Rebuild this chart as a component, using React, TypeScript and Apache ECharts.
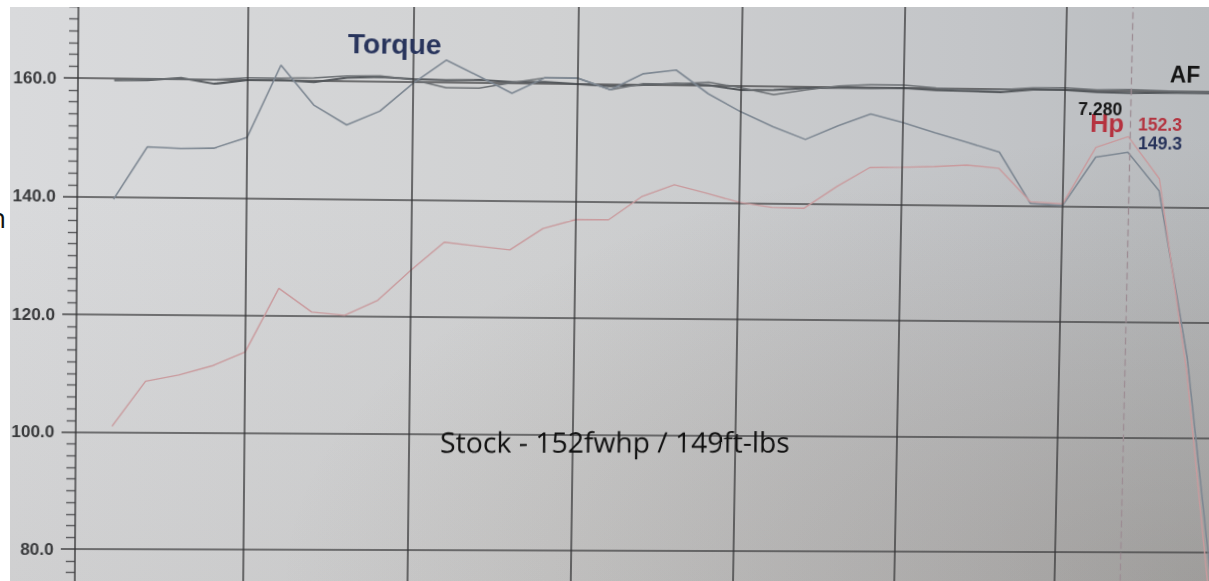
import React, { useEffect, useRef } from "react";
import * as echarts from "echarts";

// ---- data read from the dyno sheet ----
const rpm = [1200, 1400, 1600, 1800, 2000, 2200, 2400, 2600, 2800, 3000, 3200, 3400, 3600, 3800, 4000, 4200, 4400, 4600, 4800, 5000, 5200, 5400, 5600, 5800, 6000, 6200, 6400, 6600, 6800, 7000, 7200, 7400, 7600, 7800, 8000];
const torque = [139.6, 148.5, 148.3, 148.4, 150.3, 162.6, 155.9, 152.6, 155.0, 159.8, 163.8, 161.1, 158.3, 161.0, 161.0, 159.1, 161.9, 162.6, 158.6, 155.6, 153.1, 151.0, 153.4, 155.5, 154.1, 152.4, 150.8, 149.2, 140.4, 140.1, 148.5, 149.4, 142.8, 114.0, 71.6];
const hp = [101.0, 108.7, 109.8, 111.4, 113.8, 124.7, 120.7, 120.2, 122.8, 128.0, 132.8, 132.2, 131.6, 135.3, 136.9, 136.9, 140.9, 143.0, 141.6, 140.1, 139.3, 139.2, 143.0, 146.3, 146.4, 146.6, 146.9, 146.4, 140.7, 140.4, 150.2, 152.1, 144.9, 111.3, 66.0];
const af1 = [159.7, 159.8, 160.2, 159.3, 160.0, 160.1, 159.8, 160.6, 160.8, 160.5, 160.4, 160.5, 160.2, 160.3, 160.0, 159.7, 160.0, 160.3, 160.1, 159.3, 159.4, 159.8, 159.9, 159.9, 160.0, 159.7, 159.6, 159.5, 160.0, 160.0, 159.7, 159.6, 159.7, 159.8, 159.7];
const af2 = [159.7, 160.0, 160.0, 160.0, 160.4, 160.4, 160.5, 160.9, 161.0, 160.4, 159.1, 159.1, 160.1, 161.0, 161.0, 159.1, 160.2, 160.2, 160.6, 159.7, 158.6, 159.5, 160.2, 160.5, 160.5, 160.1, 159.8, 159.9, 160.3, 160.4, 160.1, 160.2, 160.1, 159.9, 160.0];
const vGridRpm = [2000, 3000, 4000, 5000, 6000, 7000];
const cursorRpm = 7410;
const yTickValues = [80, 100, 120, 140, 160];
const caption = "Stock - 152fwhp / 149ft-lbs";
const cursorLabel = "7.280";
const hpPeak = "152.3";
const tqPeak = "149.3";

// ---- photo perspective: flat sheet corners -> where they sit in the photo ----
const OFF = 40; // chart div's top-left sits at page (-40, -40)
const flatCorners = [[78, 78], [1065, 78], [78, 548], [1065, 548]];
const photoCorners = [[78, 78], [1065, 90], [75, 549], [1055, 552]];

function homography(src: number[][], dst: number[][]): number[] {
  const A: number[][] = [];
  const B: number[] = [];
  for (let i = 0; i < 4; i++) {
    const [x, y] = src[i];
    const [u, v] = dst[i];
    A.push([x, y, 1, 0, 0, 0, -x * u, -y * u]);
    B.push(u);
    A.push([0, 0, 0, x, y, 1, -x * v, -y * v]);
    B.push(v);
  }
  const n = 8;
  for (let c = 0; c < n; c++) {
    let p = c;
    for (let r = c + 1; r < n; r++) if (Math.abs(A[r][c]) > Math.abs(A[p][c])) p = r;
    [A[c], A[p]] = [A[p], A[c]];
    [B[c], B[p]] = [B[p], B[c]];
    for (let r = 0; r < n; r++) {
      if (r === c) continue;
      const f = A[r][c] / A[c][c];
      for (let k = c; k < n; k++) A[r][k] -= f * A[c][k];
      B[r] -= f * B[c];
    }
  }
  return B.map((b, i) => b / A[i][i]);
}
const shift = (pts: number[][]) => pts.map(([x, y]) => [x + OFF, y + OFF]);
const H = homography(shift(flatCorners), shift(photoCorners));
const Hinv = homography(shift(photoCorners), shift(flatCorners));
const applyH = (m: number[], x: number, y: number): [number, number] => {
  const w = m[6] * x + m[7] * y + 1;
  return [(m[0] * x + m[1] * y + m[2]) / w, (m[3] * x + m[4] * y + m[5]) / w];
};
// page position -> chart local coordinates
const pc = (px: number, py: number) => applyH(Hinv, px + OFF, py + OFF);
const cssMatrix = `matrix3d(${H[0]},${H[3]},0,${H[6]},${H[1]},${H[4]},0,${H[7]},0,0,1,0,${H[2]},${H[5]},0,1)`;

export default function App() {
  const ref = useRef<HTMLDivElement>(null);

  useEffect(() => {
    if (!ref.current) return;
    const chart = echarts.init(ref.current, undefined, { renderer: "svg" });
    const gridColor = "rgba(52,52,54,0.85)";
    const boldFont = "Liberation Sans, Arial, sans-serif";
    const mk = (text: string, px: number, py: number, size: number, color: string) => {
      const [x, y] = pc(px, py);
      return {
        type: "text",
        x,
        y,
        z: 50,
        style: {
          text,
          fontFamily: boldFont,
          fontWeight: "bold",
          fontSize: size,
          fill: color,
          verticalAlign: "middle",
          align: "left",
        },
      };
    };
    const capPos = pc(440, 442);
    chart.setOption({
      animation: false,
      backgroundColor: "transparent",
      grid: { left: 118, top: 0.5, width: 1183.75, height: 705, outerBoundsMode: "none", containLabel: false },
      xAxis: { type: "value", min: 982, max: 8200, show: false },
      yAxis: {
        type: "value",
        min: 60,
        max: 180,
        interval: 20,
        axisLine: { show: true, lineStyle: { color: gridColor, width: 1.6 } },
        axisTick: { show: true, length: 14, lineStyle: { color: gridColor, width: 1.6 } },
        minorTick: { show: true, splitNumber: 10, length: 9, lineStyle: { color: "rgba(60,60,62,0.8)", width: 1.4 } },
        splitLine: { show: true, lineStyle: { color: gridColor, width: 1.6 } },
        axisLabel: {
          margin: 21,
          fontSize: 17,
          fontWeight: "bold",
          fontFamily: boldFont,
          color: "#3a3b3d",
          formatter: (v: number) => (yTickValues.includes(v) ? v.toFixed(1) : ""),
        },
      },
      series: [
        {
          name: "AF",
          type: "line",
          showSymbol: false,
          data: rpm.map((r, i) => [r, af1[i]]),
          lineStyle: { color: "#53575b", width: 2 },
          markLine: {
            silent: true,
            symbol: ["none", "none"],
            label: { show: false },
            lineStyle: { type: "solid", color: gridColor, width: 1.6 },
            data: vGridRpm.map((v) => ({ xAxis: v })),
          },
        },
        {
          name: "AF2",
          type: "line",
          showSymbol: false,
          data: rpm.map((r, i) => [r, af2[i]]),
          lineStyle: { color: "#6c7074", width: 1.5 },
        },
        {
          name: "Torque",
          type: "line",
          showSymbol: false,
          data: rpm.map((r, i) => [r, torque[i]]),
          lineStyle: { color: "#7d8792", width: 1.6 },
        },
        {
          name: "Hp",
          type: "line",
          showSymbol: false,
          data: rpm.map((r, i) => [r, hp[i]]),
          lineStyle: { color: "#c99a9d", width: 1.4 },
          markLine: {
            silent: true,
            symbol: ["none", "none"],
            label: { show: false },
            lineStyle: { type: [7, 4], color: "#9c8c93", width: 1.3 },
            data: [{ xAxis: cursorRpm }],
          },
        },
      ],
      graphic: [
        mk("Torque", 348, 43, 28, "#28345c"),
        mk("AF", 1170, 75, 23, "#141414"),
        mk("Hp", 1090, 123, 26, "#b5323f"),
        mk(cursorLabel, 1078, 109, 18, "#161616"),
        mk(hpPeak, 1138, 124, 18, "#b33440"),
        mk(tqPeak, 1138, 143, 18, "#27335a"),
        {
          type: "text",
          x: capPos[0],
          y: capPos[1],
          rotation: 0.006,
          z: 60,
          style: {
            text: caption,
            fontFamily: "Open Sans, Noto Sans, sans-serif",
            fontSize: 28.5,
            fill: "#111111",
            verticalAlign: "middle",
            align: "left",
          },
        },
      ],
    });
    return () => chart.dispose();
  }, []);

  return (
    <div style={{ position: "fixed", left: 0, top: 0, width: 1209, height: 581, background: "#ffffff", overflow: "hidden" }}>
      <div
        style={{
          position: "absolute",
          left: -11,
          top: 203,
          fontFamily: "Open Sans, Noto Sans, sans-serif",
          fontSize: 28,
          lineHeight: "28px",
          color: "#111",
        }}
      >
        n
      </div>
      <div
        style={{
          position: "absolute",
          left: 10,
          top: 7,
          width: 1199,
          height: 574,
          overflow: "hidden",
          background:
            "radial-gradient(ellipse at 100% 100%, rgba(90,75,60,0.22), rgba(90,75,60,0) 55%), linear-gradient(to bottom, rgba(80,70,60,0) 30%, rgba(80,70,60,0.07) 100%), linear-gradient(to right, #d9dadc 0%, #d0d1d2 45%, #c3c5c8 80%, #b9bcbf 100%)",
        }}
      >
        <div
          ref={ref}
          style={{
            position: "absolute",
            left: -OFF - 10,
            top: -OFF - 7,
            width: 1340,
            height: 760,
            transform: cssMatrix,
            transformOrigin: "0 0",
          }}
        />
      </div>
    </div>
  );
}
